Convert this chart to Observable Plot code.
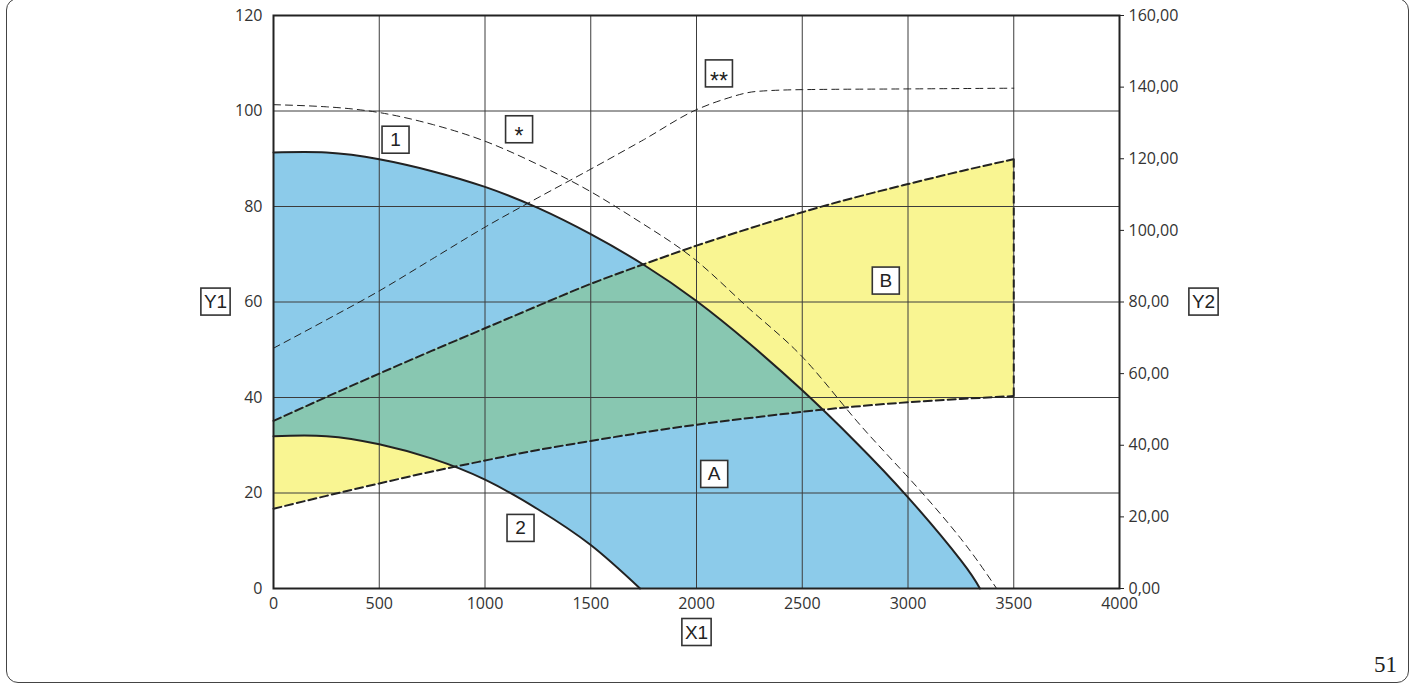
<!DOCTYPE html>
<html>
<head>
<meta charset="utf-8">
<script src="https://cdn.jsdelivr.net/npm/d3@7"></script>
<script src="https://cdn.jsdelivr.net/npm/@observablehq/plot@0.6"></script>
<style>
html,body{margin:0;padding:0;background:#fff;}
#wrap{position:relative;width:1410px;height:684px;overflow:hidden;}
#chart{position:absolute;left:0;top:0;}
#border{position:absolute;left:6px;top:-2px;width:1403px;height:684.5px;border:1.5px solid #444;border-radius:12px;box-sizing:border-box;pointer-events:none;}
#page{position:absolute;right:13px;top:653px;font-family:"Liberation Serif",serif;font-size:23px;line-height:23px;color:#222;}
</style>
</head>
<body>
<div id="wrap"><div id="chart"></div><div id="border"></div><div id="page">51</div></div>
<script>
// ---- data ----
const xTicks = [0, 500, 1000, 1500, 2000, 2500, 3000, 3500, 4000];
const y1Ticks = [0, 20, 40, 60, 80, 100, 120];
const y2Ticks = [0, 20, 40, 60, 80, 100, 120, 140, 160];
const gridX = [500, 1000, 1500, 2000, 2500, 3000, 3500];
const gridY = [20, 40, 60, 80, 100];
const Y2_TO_Y1 = 120 / 160;

// curve 1 (upper solid)
const curve1X = [0, 250, 500, 750, 1000, 1250, 1500, 1750, 2000, 2250, 2500, 2750, 3000, 3250, 3340];
const curve1Y = [91.3, 91.3, 89.9, 87.4, 84.1, 79.7, 74.2, 67.8, 60.2, 51.3, 41.5, 30.8, 19.1, 5.9, 0];
// curve 2 (lower solid)
const curve2X = [0, 250, 500, 750, 1000, 1250, 1500, 1733];
const curve2Y = [31.9, 31.9, 30.2, 27.2, 22.8, 16.6, 9.1, 0];
// band (dashed borders)
const bandX = [0, 250, 500, 750, 1000, 1250, 1500, 1750, 2000, 2250, 2500, 2750, 3000, 3250, 3500];
const bandLow = [16.7, 19.4, 22.0, 24.5, 26.8, 29.0, 30.9, 32.7, 34.3, 35.7, 37.0, 38.1, 39.0, 39.7, 40.3];
const bandHigh = [35.1, 40.1, 45.0, 49.8, 54.5, 59.2, 63.8, 67.9, 71.8, 75.4, 78.8, 81.9, 84.7, 87.4, 89.9];
// "*" curve (Y2 units)
const starX = [0, 250, 500, 750, 1000, 1250, 1500, 1750, 2000, 2250, 2500, 2750, 3000, 3250, 3419];
const starY2 = [135.1, 134.5, 132.9, 129.6, 124.9, 118.4, 110.8, 101.7, 91.5, 78.1, 64.7, 47.3, 31.1, 13.9, 0];
// "**" curve (Y2 units)
const star2X = [0, 250, 500, 750, 1000, 1250, 1500, 1750, 2000, 2125, 2284, 2500, 3000, 3500];
const star2Y2 = [67.1, 75.0, 83.1, 92.0, 100.9, 109.1, 117.1, 125.3, 133.7, 136.5, 138.8, 139.3, 139.5, 139.7];
// boxed labels inside the plot
const labelText = ["1", "A", "B", "2"];
const labelX = [577, 2083, 2895, 1168];
const labelY = [93.9, 23.9, 64.4, 12.6];
const starLabelText = ["*", "**"];
const starLabelX = [1161, 2106];
const starLabelY = [95.8, 107.5];

// ---- styles ----
const BLUE = "#8ccbea", YELLOW = "#f9f592", GREEN = "#88c7b1";
const INK = "#222";
const STAR_DY = 6;

const c1 = curve1X.map((x, i) => ({x, y: curve1Y[i]}));
const c2 = curve2X.map((x, i) => ({x, y: curve2Y[i]}));
const band = bandX.map((x, i) => ({x, lo: bandLow[i], hi: bandHigh[i]}));
const star = starX.map((x, i) => ({x, y2: starY2[i]}));
const star2 = star2X.map((x, i) => ({x, y2: star2Y2[i]}));
const labels = labelText.map((t, i) => ({t, x: labelX[i], y: labelY[i]}));
const starLabels = starLabelText.map((t, i) => ({t, x: starLabelX[i], y: starLabelY[i]}));
const last = band.length - 1;
const curve = "natural";
const fmt2 = v => (v / Y2_TO_Y1).toFixed(2).replace(".", ",");
const labelFont = {fontFamily: "Liberation Sans", fontSize: 19, fill: INK, textAnchor: "middle"};

const chart = Plot.plot({
  width: 1410,
  height: 684,
  marginLeft: 273,
  marginRight: 291,
  marginTop: 15,
  marginBottom: 96,
  style: {fontFamily: "Open Sans", fontSize: "16px", color: "#333", background: "transparent"},
  x: {domain: [0, 4000]},
  y: {domain: [0, 120]},
  marks: [
    Plot.areaY(c1, {x: "x", y: "y", fill: BLUE, curve}),                       // area 0
    Plot.areaY(c2, {x: "x", y: "y", fill: "white", curve}),                    // area 1
    Plot.areaY(band, {x: "x", y1: "lo", y2: "hi", fill: YELLOW, curve}),      // area 2
    Plot.areaY(band, {x: "x", y1: "lo", y2: "hi", fill: GREEN, curve}),       // area 3
    Plot.ruleX(gridX, {stroke: "#3c3c3c", strokeWidth: 1}),
    Plot.ruleY(gridY, {stroke: "#3c3c3c", strokeWidth: 1}),
    Plot.line(star, {x: "x", y: d => d.y2 * Y2_TO_Y1, stroke: INK, strokeWidth: 1, strokeDasharray: "7,5", curve}),
    Plot.line(star2, {x: "x", y: d => d.y2 * Y2_TO_Y1, stroke: INK, strokeWidth: 1, strokeDasharray: "7,5", curve: "monotone-x"}),
    Plot.line(band, {x: "x", y: "lo", stroke: INK, strokeWidth: 2, strokeDasharray: "8,4", curve}),
    Plot.line(band, {x: "x", y: "hi", stroke: INK, strokeWidth: 2, strokeDasharray: "8,4", curve}),
    Plot.ruleX([band[last]], {x: "x", y1: "lo", y2: "hi", stroke: INK, strokeWidth: 2, strokeDasharray: "8,4"}),
    Plot.line(c1, {x: "x", y: "y", stroke: INK, strokeWidth: 2, curve}),
    Plot.line(c2, {x: "x", y: "y", stroke: INK, strokeWidth: 2, curve}),
    Plot.frame({stroke: INK, strokeWidth: 2}),
    Plot.axisY({ticks: y1Ticks, tickSize: 0, tickPadding: 11, label: null}),
    Plot.axisX({ticks: xTicks, tickSize: 0, tickPadding: 9, tickFormat: d => String(d), label: null}),
    Plot.axisY(y2Ticks.map(v => v * Y2_TO_Y1), {anchor: "right", tickSize: 4, tickPadding: 5, tickFormat: fmt2, label: null, stroke: INK}),
    Plot.text(labels, {x: "x", y: "y", text: "t", ...labelFont}),                                  // text 0
    Plot.text(starLabels, {x: "x", y: "y", text: "t", ...labelFont, fontSize: 23, dy: STAR_DY}),   // text 1
    Plot.text(["Y1"], {frameAnchor: "left", dx: -58, text: d => d, ...labelFont}),
    Plot.text(["Y2"], {frameAnchor: "right", dx: 84, text: d => d, ...labelFont}),
    Plot.text(["X1"], {frameAnchor: "bottom", dy: 50, text: d => d, ...labelFont})
  ]
});
document.getElementById("chart").appendChild(chart);

// ---- post-processing: green overlap mask + label boxes ----
const ns = "http://www.w3.org/2000/svg";
const svg = chart;
const areas = svg.querySelectorAll('g[aria-label="area"]');
const blueG = areas[0], holeG = areas[1], greenG = areas[3];
const defs = document.createElementNS(ns, "defs");
const mask = document.createElementNS(ns, "mask");
mask.setAttribute("id", "blueMask");
mask.setAttribute("maskUnits", "userSpaceOnUse");
mask.setAttribute("x", 0); mask.setAttribute("y", 0);
mask.setAttribute("width", 1410); mask.setAttribute("height", 684);
for (const [g, color] of [[blueG, "white"], [holeG, "black"]]) {
  const c = g.cloneNode(true);
  c.removeAttribute("aria-label");
  c.setAttribute("fill", color);
  c.querySelectorAll("*").forEach(e => { e.removeAttribute("fill"); });
  mask.appendChild(c);
}
defs.appendChild(mask);
svg.insertBefore(defs, svg.firstChild);
greenG.setAttribute("mask", "url(#blueMask)");

const textGroups = svg.querySelectorAll('g[aria-label="text"]');
textGroups.forEach((g, gi) => {
  g.querySelectorAll("text").forEach(t => {
    const b = t.getBBox();
    const w = Math.max(27, b.width + 6), h = 27;
    const cx = b.x + b.width / 2;
    let cy = b.y + b.height / 2;
    if (gi === 1) cy -= STAR_DY + 0.05 * 23; // box centred on the anchor, not on the shifted glyph
    const r = document.createElementNS(ns, "rect");
    r.setAttribute("x", cx - w / 2);
    r.setAttribute("y", cy - h / 2);
    r.setAttribute("width", w);
    r.setAttribute("height", h);
    r.setAttribute("fill", "white");
    r.setAttribute("stroke", "#333");
    r.setAttribute("stroke-width", 1.6);
    const tr = t.getAttribute("transform");
    if (tr) r.setAttribute("transform", tr);
    g.insertBefore(r, t);
  });
});
</script>
</body>
</html>
